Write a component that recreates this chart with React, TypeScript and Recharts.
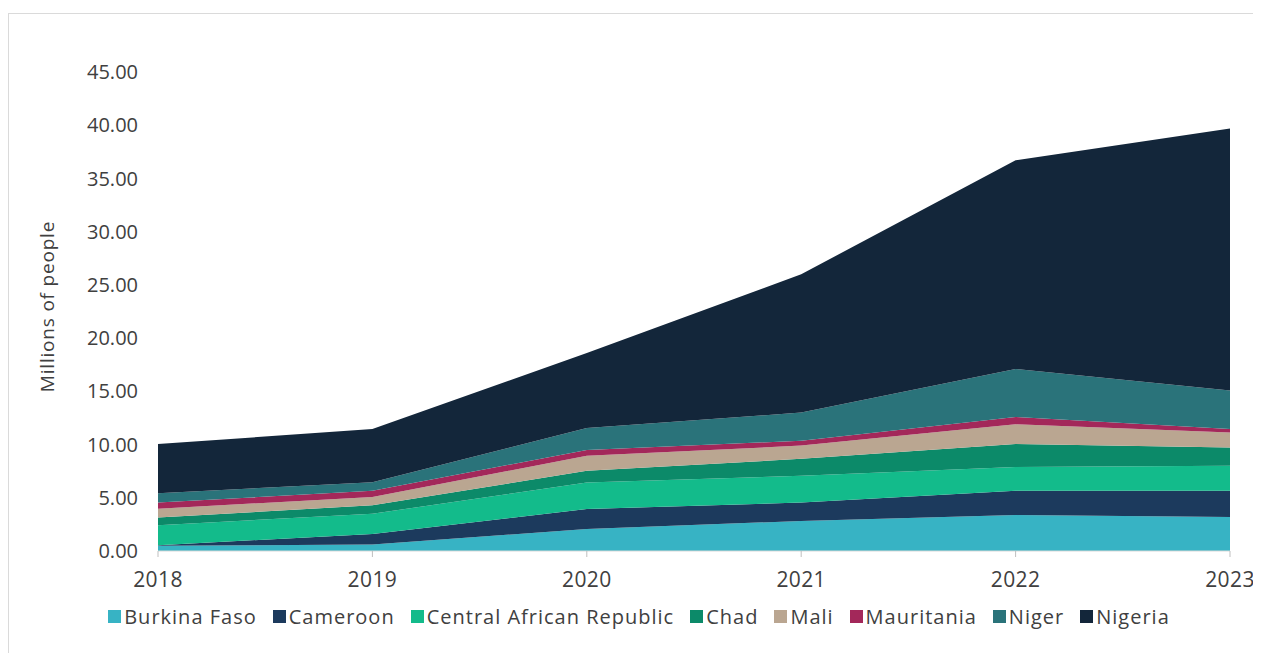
import React from "react";
import { AreaChart, Area, XAxis, YAxis, Legend } from "recharts";

const years = ["2018", "2019", "2020", "2021", "2022", "2023"];
const burkinaFaso = [0.5, 0.6, 2.07, 2.82, 3.39, 3.2];
const cameroon = [0.05, 1.0, 1.88, 1.73, 2.26, 2.45];
const centralAfricanRepublic = [1.87, 1.9, 2.48, 2.51, 2.25, 2.35];
const chad = [0.72, 0.8, 1.1, 1.6, 2.15, 1.73];
const mali = [0.84, 0.78, 1.41, 1.24, 1.85, 1.41];
const mauritania = [0.57, 0.57, 0.56, 0.46, 0.7, 0.31];
const niger = [0.88, 0.8, 2.05, 2.64, 4.5, 3.62];
const nigeria = [4.62, 5.0, 7.05, 13.0, 19.6, 24.63];
const yTicks = [0, 5, 10, 15, 20, 25, 30, 35, 40, 45];

const series = [
  { key: "Burkina Faso", values: burkinaFaso, color: "#37b3c4" },
  { key: "Cameroon", values: cameroon, color: "#1c3a5d" },
  { key: "Central African Republic", values: centralAfricanRepublic, color: "#13bb8b" },
  { key: "Chad", values: chad, color: "#0c8a69" },
  { key: "Mali", values: mali, color: "#baa691" },
  { key: "Mauritania", values: mauritania, color: "#a3285a" },
  { key: "Niger", values: niger, color: "#2a737a" },
  { key: "Nigeria", values: nigeria, color: "#13263a" },
];

const data = years.map((y, i) => {
  const row: Record<string, number | string> = { year: y };
  series.forEach((s) => {
    row[s.key] = s.values[i];
  });
  return row;
});

const font = "'Open Sans', sans-serif";

const LegendContent = () => (
  <div
    style={{
      display: "flex",
      justifyContent: "center",
      alignItems: "center",
      fontFamily: font,
      fontSize: 20,
      letterSpacing: 1,
      color: "#404040",
      whiteSpace: "nowrap",
    }}
  >
    {series.map((s, i) => (
      <div
        key={s.key}
        style={{ display: "flex", alignItems: "center", marginRight: i === series.length - 1 ? 0 : 16 }}
      >
        <span
          style={{
            display: "inline-block",
            width: 13,
            height: 13,
            background: s.color,
            marginRight: 3,
          }}
        />
        <span>{s.key}</span>
      </div>
    ))}
  </div>
);

export default function App() {
  return (
    <div
      style={{
        marginTop: 5,
        width: 1262,
        height: 660,
        border: "1px solid #dadada",
        boxSizing: "border-box",
        position: "relative",
      }}
    >
      <AreaChart
        width={1260}
        height={640}
        data={data}
        margin={{ top: 58, right: 39, left: 20, bottom: 46 }}
      >
        <XAxis
          dataKey="year"
          axisLine={{ stroke: "#d9d9d9" }}
          tickLine={{ stroke: "#bfbfbf" }}
          tickSize={6}
          tickMargin={15}
          tick={{ fill: "#404040", fontSize: 21, fontFamily: font, letterSpacing: 0.4 }}
          interval={0}
          height={30}
        />
        <YAxis
          domain={[0, 45]}
          ticks={yTicks}
          interval={0}
          width={129}
          axisLine={false}
          tickLine={false}
          tickSize={0}
          tickMargin={20}
          tickFormatter={(v: number) => v.toFixed(2)}
          tick={{ fill: "#404040", fontSize: 20, fontFamily: font }}
          label={{
            value: "Millions of people",
            angle: -90,
            position: "center",
            dx: -46,
            dy: -5,
            fill: "#404040",
            fontSize: 19,
            letterSpacing: 0.8,
            fontFamily: font,
          }}
        />
        {series.map((s) => (
          <Area
            key={s.key}
            type="linear"
            dataKey={s.key}
            stackId="1"
            stroke="none"
            fill={s.color}
            fillOpacity={1}
            isAnimationActive={false}
          />
        ))}
        <Legend
          content={<LegendContent />}
          wrapperStyle={{ top: 589, left: 0, width: 1260 }}
        />
      </AreaChart>
    </div>
  );
}
